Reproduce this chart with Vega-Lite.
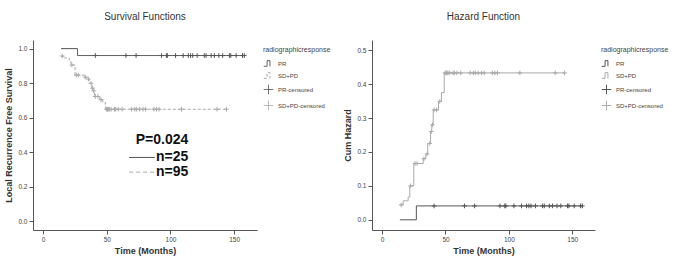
{
  "$schema": "https://vega.github.io/schema/vega-lite/v6.json",
  "background": "white",
  "padding": {"left": 4, "top": 12, "right": 2, "bottom": 0},
  "spacing": 6,
  "config": {
    "font": "Liberation Sans",
    "view": {"stroke": null},
    "title": {"fontSize": 10, "fontWeight": "normal", "color": "#333333", "offset": 18, "anchor": "middle"},
    "axis": {
      "grid": false, "domainColor": "#555555", "tickColor": "#555555", "tickSize": 4,
      "labelFontSize": 6.5, "labelColor": "#444444", "titleFontSize": 9, "titleFontWeight": "bold",
      "titleColor": "#333333", "labelOverlap": false
    },
    "legend": {
      "titleFontSize": 7, "titleFontWeight": "normal", "titleColor": "#444444",
      "labelFontSize": 6, "labelColor": "#444444", "offset": 0, "padding": 6, "rowPadding": 1, "symbolSize": 90,
      "symbolStrokeWidth": 1
    }
  },
  "datasets": {
    "steps": [
      {"key": "PR", "t": 14, "s": 1.0, "h": 0.0},
      {"key": "PR", "t": 27, "s": 0.96, "h": 0.041},
      {"key": "PR", "t": 158, "s": 0.96, "h": 0.041},
      {"key": "SD+PD", "t": 14, "s": 0.957, "h": 0.044},
      {"key": "SD+PD", "t": 16.6, "s": 0.946, "h": 0.056},
      {"key": "SD+PD", "t": 20.5, "s": 0.935, "h": 0.067},
      {"key": "SD+PD", "t": 21.8, "s": 0.905, "h": 0.1},
      {"key": "SD+PD", "t": 25, "s": 0.847, "h": 0.166},
      {"key": "SD+PD", "t": 32.4, "s": 0.835, "h": 0.18},
      {"key": "SD+PD", "t": 34.5, "s": 0.824, "h": 0.194},
      {"key": "SD+PD", "t": 36, "s": 0.799, "h": 0.225},
      {"key": "SD+PD", "t": 38.2, "s": 0.771, "h": 0.26},
      {"key": "SD+PD", "t": 39.2, "s": 0.756, "h": 0.28},
      {"key": "SD+PD", "t": 40.3, "s": 0.723, "h": 0.324},
      {"key": "SD+PD", "t": 44.5, "s": 0.705, "h": 0.349},
      {"key": "SD+PD", "t": 46.8, "s": 0.687, "h": 0.375},
      {"key": "SD+PD", "t": 49, "s": 0.649, "h": 0.433},
      {"key": "SD+PD", "t": 144, "s": 0.649, "h": 0.433}
    ],
    "cens": [
      {"key": "PR-censored", "t": 41, "s": 0.96, "h": 0.041},
      {"key": "PR-censored", "t": 65, "s": 0.96, "h": 0.041},
      {"key": "PR-censored", "t": 73, "s": 0.96, "h": 0.041},
      {"key": "PR-censored", "t": 93, "s": 0.96, "h": 0.041},
      {"key": "PR-censored", "t": 96.8, "s": 0.96, "h": 0.041},
      {"key": "PR-censored", "t": 97.6, "s": 0.96, "h": 0.041},
      {"key": "PR-censored", "t": 104, "s": 0.96, "h": 0.041},
      {"key": "PR-censored", "t": 110, "s": 0.96, "h": 0.041},
      {"key": "PR-censored", "t": 114, "s": 0.96, "h": 0.041},
      {"key": "PR-censored", "t": 115.8, "s": 0.96, "h": 0.041},
      {"key": "PR-censored", "t": 117.5, "s": 0.96, "h": 0.041},
      {"key": "PR-censored", "t": 121, "s": 0.96, "h": 0.041},
      {"key": "PR-censored", "t": 126.6, "s": 0.96, "h": 0.041},
      {"key": "PR-censored", "t": 128, "s": 0.96, "h": 0.041},
      {"key": "PR-censored", "t": 132, "s": 0.96, "h": 0.041},
      {"key": "PR-censored", "t": 134.5, "s": 0.96, "h": 0.041},
      {"key": "PR-censored", "t": 138, "s": 0.96, "h": 0.041},
      {"key": "PR-censored", "t": 141, "s": 0.96, "h": 0.041},
      {"key": "PR-censored", "t": 146.3, "s": 0.96, "h": 0.041},
      {"key": "PR-censored", "t": 147.4, "s": 0.96, "h": 0.041},
      {"key": "PR-censored", "t": 151.6, "s": 0.96, "h": 0.041},
      {"key": "PR-censored", "t": 156.6, "s": 0.96, "h": 0.041},
      {"key": "PR-censored", "t": 158, "s": 0.96, "h": 0.041},
      {"key": "SD+PD-censored", "t": 15, "s": 0.957, "h": 0.044},
      {"key": "SD+PD-censored", "t": 22.5, "s": 0.905, "h": 0.1},
      {"key": "SD+PD-censored", "t": 26, "s": 0.847, "h": 0.166},
      {"key": "SD+PD-censored", "t": 27.6, "s": 0.847, "h": 0.166},
      {"key": "SD+PD-censored", "t": 33, "s": 0.835, "h": 0.18},
      {"key": "SD+PD-censored", "t": 35.5, "s": 0.824, "h": 0.194},
      {"key": "SD+PD-censored", "t": 37.6, "s": 0.799, "h": 0.225},
      {"key": "SD+PD-censored", "t": 38.8, "s": 0.771, "h": 0.26},
      {"key": "SD+PD-censored", "t": 39.7, "s": 0.756, "h": 0.28},
      {"key": "SD+PD-censored", "t": 41, "s": 0.723, "h": 0.324},
      {"key": "SD+PD-censored", "t": 43, "s": 0.723, "h": 0.324},
      {"key": "SD+PD-censored", "t": 45.5, "s": 0.705, "h": 0.349},
      {"key": "SD+PD-censored", "t": 49.7, "s": 0.649, "h": 0.433},
      {"key": "SD+PD-censored", "t": 50.5, "s": 0.649, "h": 0.433},
      {"key": "SD+PD-censored", "t": 51.2, "s": 0.649, "h": 0.433},
      {"key": "SD+PD-censored", "t": 52, "s": 0.649, "h": 0.433},
      {"key": "SD+PD-censored", "t": 53.4, "s": 0.649, "h": 0.433},
      {"key": "SD+PD-censored", "t": 56, "s": 0.649, "h": 0.433},
      {"key": "SD+PD-censored", "t": 57, "s": 0.649, "h": 0.433},
      {"key": "SD+PD-censored", "t": 59, "s": 0.649, "h": 0.433},
      {"key": "SD+PD-censored", "t": 62, "s": 0.649, "h": 0.433},
      {"key": "SD+PD-censored", "t": 69.5, "s": 0.649, "h": 0.433},
      {"key": "SD+PD-censored", "t": 72, "s": 0.649, "h": 0.433},
      {"key": "SD+PD-censored", "t": 73.5, "s": 0.649, "h": 0.433},
      {"key": "SD+PD-censored", "t": 75.8, "s": 0.649, "h": 0.433},
      {"key": "SD+PD-censored", "t": 78.4, "s": 0.649, "h": 0.433},
      {"key": "SD+PD-censored", "t": 80.5, "s": 0.649, "h": 0.433},
      {"key": "SD+PD-censored", "t": 87, "s": 0.649, "h": 0.433},
      {"key": "SD+PD-censored", "t": 89, "s": 0.649, "h": 0.433},
      {"key": "SD+PD-censored", "t": 91, "s": 0.649, "h": 0.433},
      {"key": "SD+PD-censored", "t": 108.7, "s": 0.649, "h": 0.433},
      {"key": "SD+PD-censored", "t": 136.6, "s": 0.649, "h": 0.433},
      {"key": "SD+PD-censored", "t": 144, "s": 0.649, "h": 0.433}
    ],
    "notes": [
      {"label": "P=0.024", "tx": 114, "ty": 0.472},
      {"label": "n=25", "tx": 114, "ty": 0.37},
      {"label": "n=95", "tx": 114, "ty": 0.285}
    ]
  },
  "resolve": {"scale": {"color": "independent", "shape": "independent", "strokeDash": "independent"}},
  "hconcat": [
    {
      "title": "Survival Functions",
      "width": 224,
      "height": 190,
      "layer": [
        {
          "data": {"name": "steps"},
          "mark": {"type": "line", "interpolate": "step-after", "strokeWidth": 1},
          "encoding": {
            "x": {"field": "t", "type": "quantitative", "scale": {"domain": [-8, 168], "nice": false, "zero": false},
                  "axis": {"values": [0, 50, 100, 150], "title": "Time (Months)"}},
            "y": {"field": "s", "type": "quantitative", "scale": {"domain": [-0.05, 1.05], "nice": false, "zero": false},
                  "axis": {"tickCount": 6, "format": ".1f", "title": "Local Recurrence Free Survival", "labelOverlap": false}},
            "color": {"field": "key", "type": "nominal",
                      "scale": {"domain": ["PR", "SD+PD", "PR-censored", "SD+PD-censored"], "range": ["#555555", "#aaaaaa", "#555555", "#aaaaaa"]},
                      "legend": {"title": "radiographicresponse"}},
            "strokeDash": {"field": "key", "type": "nominal",
                      "scale": {"domain": ["PR", "SD+PD", "PR-censored", "SD+PD-censored"], "range": [[1, 0], [3, 2], [1, 0], [1, 0]]},
                      "legend": {"title": "radiographicresponse"}}
          }
        },
        {
          "data": {"name": "cens"},
          "mark": {"type": "point", "filled": false, "size": 22, "strokeWidth": 1, "opacity": 1},
          "encoding": {
            "x": {"field": "t", "type": "quantitative"},
            "y": {"field": "s", "type": "quantitative"},
            "color": {"field": "key", "type": "nominal"},
            "shape": {"field": "key", "type": "nominal",
                      "scale": {"domain": ["PR", "SD+PD", "PR-censored", "SD+PD-censored"],
                                "range": ["M-1,0.6H-0.3V-0.6H0.3V0.6", "M-1,0.6H-0.3V-0.6H0.3V0.6", "M-1,0H1M0,-1V1", "M-1,0H1M0,-1V1"]},
                      "legend": {"title": "radiographicresponse"}}
          }
        },
        {
          "data": {"name": "notes"},
          "mark": {"type": "text", "align": "right", "baseline": "middle", "fontSize": 14, "fontWeight": "bold", "color": "#111111"},
          "encoding": {
            "x": {"field": "tx", "type": "quantitative"},
            "y": {"field": "ty", "type": "quantitative"},
            "text": {"field": "label"}
          }
        },
        {
          "data": {"values": [{"a": 67.5, "b": 87.7, "ky": 0.37}]},
          "mark": {"type": "rule", "strokeWidth": 1, "color": "#555555"},
          "encoding": {
            "x": {"field": "a", "type": "quantitative"},
            "x2": {"field": "b"},
            "y": {"field": "ky", "type": "quantitative"}
          }
        },
        {
          "data": {"values": [{"a": 67.5, "b": 87.7, "ky": 0.285}]},
          "mark": {"type": "rule", "strokeWidth": 1, "color": "#aaaaaa", "strokeDash": [4, 3]},
          "encoding": {
            "x": {"field": "a", "type": "quantitative"},
            "x2": {"field": "b"},
            "y": {"field": "ky", "type": "quantitative"}
          }
        }
      ]
    },
    {
      "title": "Hazard Function",
      "width": 223,
      "height": 190,
      "layer": [
        {
          "data": {"name": "steps"},
          "mark": {"type": "line", "interpolate": "step-after", "strokeWidth": 1},
          "encoding": {
            "x": {"field": "t", "type": "quantitative", "scale": {"domain": [-8, 168], "nice": false, "zero": false},
                  "axis": {"values": [0, 50, 100, 150], "title": "Time (Months)"}},
            "y": {"field": "h", "type": "quantitative", "scale": {"domain": [-0.03, 0.53], "nice": false, "zero": false},
                  "axis": {"tickCount": 6, "format": ".1f", "title": "Cum Hazard", "labelOverlap": false}},
            "color": {"field": "key", "type": "nominal",
                      "scale": {"domain": ["PR", "SD+PD", "PR-censored", "SD+PD-censored"], "range": ["#555555", "#aaaaaa", "#555555", "#aaaaaa"]},
                      "legend": {"title": "radiographicresponse"}}
          }
        },
        {
          "data": {"name": "cens"},
          "mark": {"type": "point", "filled": false, "size": 22, "strokeWidth": 1, "opacity": 1},
          "encoding": {
            "x": {"field": "t", "type": "quantitative"},
            "y": {"field": "h", "type": "quantitative"},
            "color": {"field": "key", "type": "nominal"},
            "shape": {"field": "key", "type": "nominal",
                      "scale": {"domain": ["PR", "SD+PD", "PR-censored", "SD+PD-censored"],
                                "range": ["M-1,0.6H-0.3V-0.6H0.3V0.6", "M-1,0.6H-0.3V-0.6H0.3V0.6", "M-1,0H1M0,-1V1", "M-1,0H1M0,-1V1"]},
                      "legend": {"title": "radiographicresponse"}}
          }
        }
      ]
    }
  ]
}
